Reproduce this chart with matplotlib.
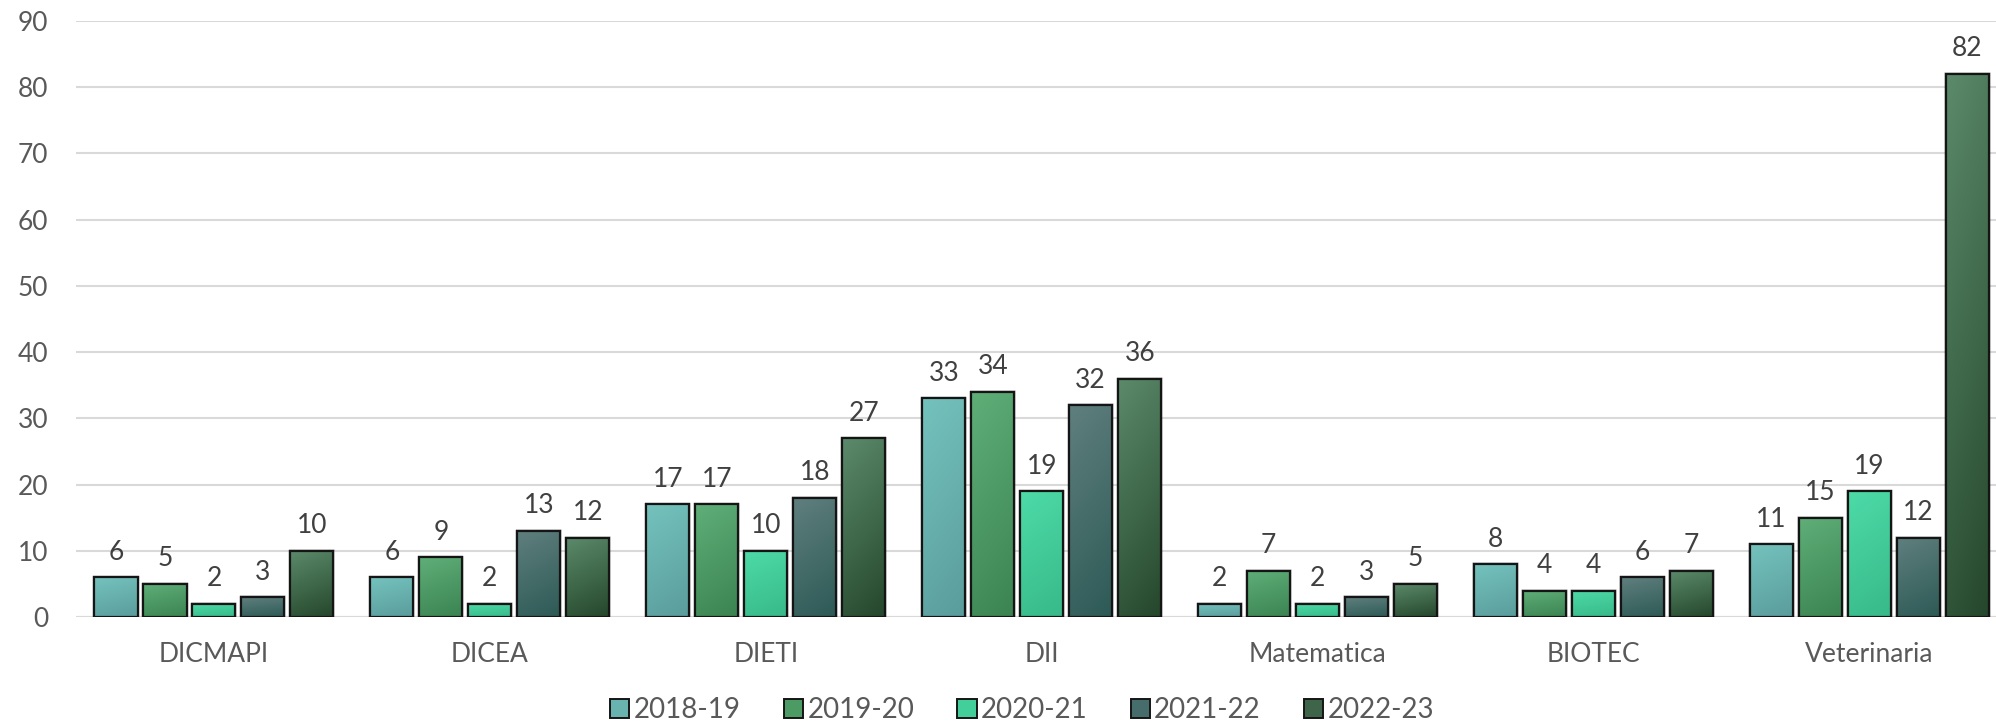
import numpy as np
import matplotlib
matplotlib.use("Agg")
import matplotlib.pyplot as plt
from matplotlib.patches import Patch
from matplotlib.colors import to_rgb

categories = ["DICMAPI", "DICEA", "DIETI", "DII", "Matematica", "BIOTEC", "Veterinaria"]
years = ["2018-19", "2019-20", "2020-21", "2021-22", "2022-23"]
v_2018_19 = [6, 6, 17, 33, 2, 8, 11]
v_2019_20 = [5, 9, 17, 34, 7, 4, 15]
v_2020_21 = [2, 2, 10, 19, 2, 4, 19]
v_2021_22 = [3, 13, 18, 32, 3, 6, 12]
v_2022_23 = [10, 12, 27, 36, 5, 7, 82]
series = [v_2018_19, v_2019_20, v_2020_21, v_2021_22, v_2022_23]

# (top/light, bottom/dark) gradient colours
grads = [("#74c2bd", "#5a9d9c"),
         ("#5fae78", "#3b8452"),
         ("#4ddba8", "#38b98a"),
         ("#5f7f7e", "#2d5a56"),
         ("#5b8a6a", "#25472c")]
base = ["#68b3b0", "#4c9a64", "#42cf9a", "#466d6b", "#3e6449"]

text_col = "#595959"
plt.rcParams['font.family'] = ['Lato', 'DejaVu Sans']

fig = plt.figure(figsize=(19.96, 7.23), dpi=100)
ax = fig.add_axes([76/1996, (723-617)/723, 1 - 76/1996, (617-21)/723])

n = len(years)
step = 0.1775
width = 0.156
x = np.arange(len(categories))

for i, (vals, (ctop, cbot)) in enumerate(zip(series, grads)):
    xs = x + (i - (n - 1) / 2) * step
    bars = ax.bar(xs, vals, width=width, color=base[i], edgecolor="#151515",
                  linewidth=1.6, zorder=3)
    c1 = np.array(to_rgb(ctop)); c2 = np.array(to_rgb(cbot))
    for b, v in zip(bars, vals):
        # soft shadow
        ax.bar(b.get_x() + b.get_width()/2, v + 0.5, width=width + 0.012, bottom=-0.25,
               color="#000000", alpha=0.08, linewidth=0, zorder=2)
        gy, gx = np.mgrid[0:1:64j, 0:1:16j]
        t = np.clip(0.8 * gy + 0.2 * gx, 0, 1)  # 0 at top-left, 1 at bottom-right
        img = c1[None, None, :] * (1 - t[..., None]) + c2[None, None, :] * t[..., None]
        im = ax.imshow(img, extent=[b.get_x(), b.get_x() + b.get_width(), 0, v],
                       origin='upper', aspect='auto', interpolation='bilinear', zorder=3.5)
        im.set_clip_path(b)
        ax.bar(b.get_x() + b.get_width()/2, v, width=width, fill=False,
               edgecolor="#151515", linewidth=1.6, zorder=4)
        ax.annotate(str(v), (b.get_x() + b.get_width()/2, v), xytext=(0, 9),
                    textcoords="offset points", ha="center", va="bottom",
                    fontsize=19, color="#404040", zorder=5)

ax.set_xlim(-0.5, (1996 - 75.5) / 276 - 0.5)
ax.set_ylim(0, 90)
ax.set_yticks(np.arange(0, 91, 10))
ax.set_xticks(x)
ax.set_xticklabels(categories)
ax.tick_params(axis='y', length=0, pad=20, labelsize=19, labelcolor=text_col)
ax.tick_params(axis='x', length=0, pad=18, labelsize=19, labelcolor=text_col)
ax.grid(axis='y', color="#d9d9d9", linewidth=1.5, zorder=0)
ax.set_axisbelow(True)
for s in ax.spines.values():
    s.set_visible(False)
ax.axhline(0, color="#d9d9d9", linewidth=1.5, zorder=1)

handles = [Patch(facecolor=base[i], edgecolor="#151515", linewidth=1.4, label=years[i])
           for i in range(n)]
fig.legend(handles=handles, loc="lower center", bbox_to_anchor=(1022/1996, -0.035), ncol=5,
           frameon=False, fontsize=20, handlelength=0.7, handleheight=0.7,
           handletextpad=0.15, columnspacing=1.55, labelcolor=text_col)

fig.savefig("out.png", dpi=100)
